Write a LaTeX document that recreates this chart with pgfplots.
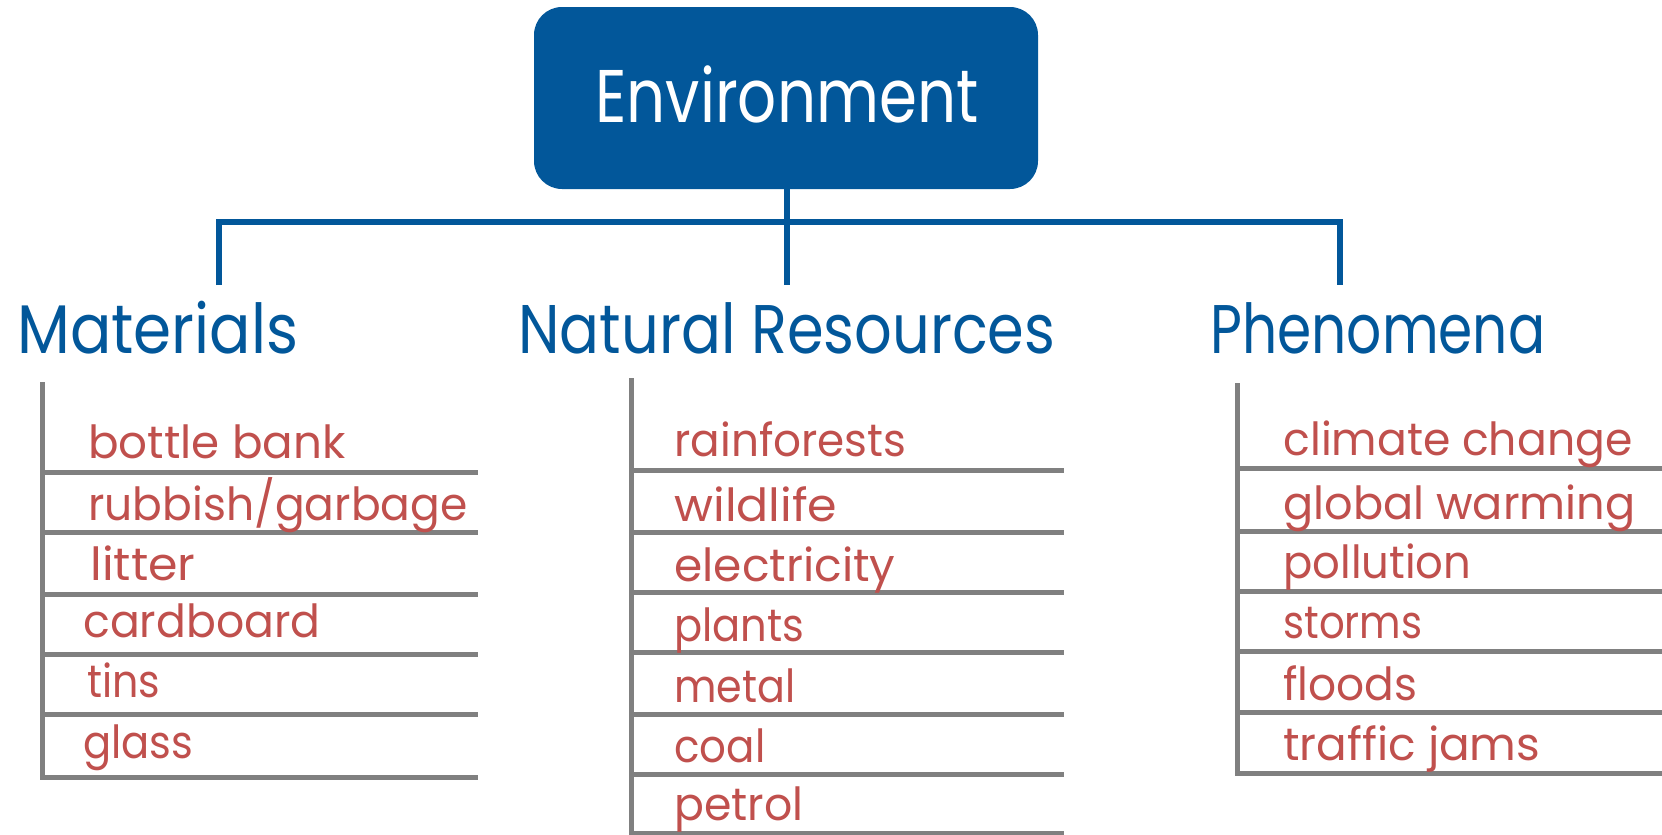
\documentclass[border=0pt]{standalone}
\usepackage{pgfplots}
\pgfplotsset{compat=1.18}
\usepackage{graphicx}
\usepackage{fontspec}
\setmainfont{Poppins}
\definecolor{envblue}{RGB}{2,87,154}
\definecolor{itemred}{RGB}{192,80,77}
\definecolor{rulegray}{RGB}{128,128,128}
% #1 x, #2 y (baseline), #3 target width in pt, #4 text
\newcommand\lbl[4]{\node[anchor=base west, inner sep=0pt, text=itemred, font=\fontsize{22.8}{24}\selectfont] at (axis cs:#1,#2) {\resizebox{#3pt}{\height}{#4}};}
\newcommand\hdg[4]{\node[anchor=base west, inner sep=0pt, text=envblue, font=\fontsize{34.4}{36}\selectfont] at (axis cs:#1,#2) {\resizebox{#3pt}{\height}{#4}};}
\begin{document}
\begin{tikzpicture}
\begin{axis}[
  width=831pt, height=417.5pt, scale only axis,
  xmin=0, xmax=1662, ymin=0, ymax=835, y dir=reverse,
  hide axis, clip=false,
]
% title box
\addplot[draw=none, fill=envblue, rounded corners=14pt] coordinates {(786,7) (1038,7) (1038,189) (534,189) (534,7)} -- cycle;
\node[anchor=base west, inner sep=0pt, text=white, font=\fontsize{37.3}{40}\selectfont] at (axis cs:595,122) {\resizebox{191.5pt}{\height}{Environment}};
% connectors
\addplot[envblue, line width=2.75pt] coordinates {(787,189) (787,285)};
\addplot[envblue, line width=2.75pt] coordinates {(219,285) (219,222) (1340,222) (1340,285)};
% headings
\hdg{17}{353}{140.5}{Materials}
\hdg{518}{353}{268.5}{Natural Resources}
\hdg{1210}{353}{167.5}{Phenomena}
% gray rules: Materials
\addplot[rulegray, line width=2.5pt] coordinates {(42,382) (42,777) (478,777)};
\addplot[rulegray, line width=2.5pt] coordinates {(42,472) (478,472)};
\addplot[rulegray, line width=2.5pt] coordinates {(42,532) (478,532)};
\addplot[rulegray, line width=2.5pt] coordinates {(42,594) (478,594)};
\addplot[rulegray, line width=2.5pt] coordinates {(42,654) (478,654)};
\addplot[rulegray, line width=2.5pt] coordinates {(42,714) (478,714)};
% Natural Resources
\addplot[rulegray, line width=2.5pt] coordinates {(631,378) (631,835)};
\addplot[rulegray, line width=2.5pt] coordinates {(631,470) (1064,470)};
\addplot[rulegray, line width=2.5pt] coordinates {(631,532) (1064,532)};
\addplot[rulegray, line width=2.5pt] coordinates {(631,592) (1064,592)};
\addplot[rulegray, line width=2.5pt] coordinates {(631,652) (1064,652)};
\addplot[rulegray, line width=2.5pt] coordinates {(631,714) (1064,714)};
\addplot[rulegray, line width=2.5pt] coordinates {(631,774) (1064,774)};
\addplot[rulegray, line width=2.5pt] coordinates {(631,833) (1064,833)};
% Phenomena
\addplot[rulegray, line width=2.5pt] coordinates {(1237,383) (1237,773) (1662,773)};
\addplot[rulegray, line width=2.5pt] coordinates {(1237,468) (1662,468)};
\addplot[rulegray, line width=2.5pt] coordinates {(1237,531) (1662,531)};
\addplot[rulegray, line width=2.5pt] coordinates {(1237,591) (1662,591)};
\addplot[rulegray, line width=2.5pt] coordinates {(1237,651) (1662,651)};
\addplot[rulegray, line width=2.5pt] coordinates {(1237,712) (1662,712)};
% items: Materials
\lbl{88}{458}{128.5}{bottle bank}
\lbl{88}{520}{189.5}{rubbish/garbage}
\lbl{90}{580}{52.5}{litter}
\lbl{83}{637}{118.5}{cardboard}
\lbl{87}{697}{36.5}{tins}
\lbl{83}{758}{55}{glass}
% items: Natural Resources
\lbl{674}{456}{116}{rainforests}
\lbl{674}{521}{81.5}{wildlife}
\lbl{674}{581}{110.5}{electricity}
\lbl{674}{641}{65}{plants}
\lbl{674}{702}{60.5}{metal}
\lbl{674}{762}{45.5}{coal}
\lbl{674}{820}{64.5}{petrol}
% items: Phenomena
\lbl{1283}{455}{174.5}{climate change}
\lbl{1283}{519}{176}{global warming}
\lbl{1283}{578}{94}{pollution}
\lbl{1283}{638}{69.5}{storms}
\lbl{1283}{700}{67}{floods}
\lbl{1283}{760}{128.5}{traffic jams}
\end{axis}
\pgfresetboundingbox
\useasboundingbox (current axis.south west) rectangle (current axis.north east);
\end{tikzpicture}
\end{document}
